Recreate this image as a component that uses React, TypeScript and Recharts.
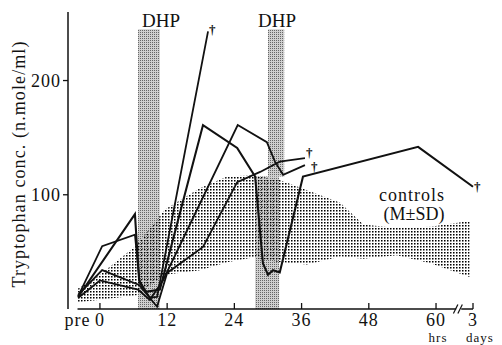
import {
  ComposedChart,
  Line,
  Area,
  XAxis,
  YAxis,
  ReferenceArea,
  ReferenceLine,
} from 'recharts';

// hours after start; "pre" sits at -4, "3 days" is drawn at 66.6 after the axis break
const xTicks = [-4, 0, 12, 24, 36, 48, 60, 66.6];
const yTicks = [100, 200];

// DHP infusion periods (hours), second one is slightly skewed in the print
const dhpBands = [
  { x1: 6.8, x2: 10.7, y1: 0, y2: 245 },
  { x1: 30, x2: 32.9, y1: 116, y2: 245 },
  { x1: 27.7, x2: 32, y1: 0, y2: 116 },
];

// controls M±SD band
const ctrlHours = [-3.9, 0, 6.6, 11.6, 17.9, 22.7, 27.3, 32.1, 37, 42.9, 47, 53, 59, 66];
const ctrlUpper = [18, 30, 56, 87, 106, 116, 117, 113, 104, 93, 74, 71, 72, 77];
const ctrlLower = [6, 8, 12, 30, 34, 41, 45, 41, 39, 46, 44, 47, 40, 28];

// individual patients (n.mole/ml), each ends with †
const p1Hours = [-3.9, 0.4, 6.25, 7.1, 8.9, 10.2, 19.3];
const p1Values = [11, 55, 65, 23, 10, 10.5, 243];

const p2Hours = [-3.9, 6.25, 7.0, 8.2, 10.7, 18.4, 24.5, 27.7, 29.1, 30, 30.9, 32.1, 36.25, 56.8, 66.6];
const p2Values = [10.5, 83, 25, 15, 17, 161, 141, 116, 40, 30, 34, 32, 116, 142, 107];

const p3Hours = [-3.9, 0, 6.8, 8.9, 11.25, 24.6, 29.8, 31.25, 32.7, 36.6];
const p3Values = [9.6, 25, 17, 8, 25, 161, 146, 129, 117.5, 126];

const p4Hours = [-3.9, 0.4, 7.0, 10.2, 12, 18.4, 24.5, 28.6, 32.1, 36.6];
const p4Values = [12.3, 34, 21, 2, 31.6, 54.4, 111, 120, 129, 132];

const toRows = (hours: number[], values: number[]) =>
  hours.map((h, i) => ({ h, v: values[i] }));

const patients = [
  { id: 'p1', rows: toRows(p1Hours, p1Values), width: 1.8, dx: 1, dy: 3 },
  { id: 'p2', rows: toRows(p2Hours, p2Values), width: 2.1, dx: 1, dy: 4 },
  { id: 'p3', rows: toRows(p3Hours, p3Values), width: 1.8, dx: 6, dy: 6 },
  { id: 'p4', rows: toRows(p4Hours, p4Values), width: 1.8, dx: 1, dy: -1 },
];

const ctrlRows = ctrlHours.map((h, i) => ({ h, range: [ctrlLower[i], ctrlUpper[i]] }));

const font = '"Liberation Serif", "DejaVu Serif", serif';
const ink = '#111';

const tickLabel = (v: number) => (v === -4 ? 'pre' : v > 64 ? '3' : String(v));

function XTick(props: any) {
  const { x, y, payload } = props;
  const v = payload.value;
  return (
    <g>
      {v !== -4 && <line x1={x} x2={x} y1={y} y2={y - 6} stroke={ink} strokeWidth={1.3} />}
      <text x={x} y={y + 17} textAnchor="middle" fontFamily={font} fontSize={18} letterSpacing={1} fill={ink}>
        {tickLabel(v)}
      </text>
    </g>
  );
}

const dagger = (count: number, dx: number, dy: number) => (props: any) => {
  const { cx, cy, index } = props;
  if (index !== count - 1) return <g key={`d${index}`} />;
  return (
    <text key={`d${index}`} x={cx + dx} y={cy + dy} fontFamily={font} fontSize={13} fontWeight="bold" fill={ink}>
      †
    </text>
  );
};

export default function App() {
  return (
    <div style={{ position: 'absolute', left: 0, top: 0, background: 'white' }}>
      <ComposedChart
        width={502}
        height={345}
        margin={{ top: 12, right: 29, bottom: 0, left: 28 }}
        style={{ backgroundColor: 'white' }}
      >
        <defs>
          <pattern id="ctrlDots" width="3" height="3" patternUnits="userSpaceOnUse">
            <rect x="0" y="0" width="1" height="1" fill="#000" />
            <rect x="1" y="0" width="1" height="1" fill="#777" />
            <rect x="0" y="1" width="1" height="1" fill="#777" />
            <rect x="1" y="1" width="1" height="1" fill="#bbb" />
          </pattern>
          <pattern id="dhpGray" width="2" height="2" patternUnits="userSpaceOnUse">
            <rect width="2" height="2" fill="#cfcfcf" />
            <rect width="1" height="1" fill="#666" />
          </pattern>
        </defs>
        <XAxis
          type="number"
          dataKey="h"
          domain={[-5.7, 66.6]}
          ticks={xTicks}
          axisLine={false}
          tickLine={false}
          tickSize={0}
          tickMargin={0}
          height={36}
          tick={<XTick />}
        />
        <YAxis
          type="number"
          domain={[0, 260]}
          ticks={yTicks}
          width={40}
          tickSize={5}
          tickMargin={2}
          axisLine={{ stroke: ink, strokeWidth: 1.5 }}
          tickLine={{ stroke: ink, strokeWidth: 1.3 }}
          tick={{ fill: ink, fontFamily: font, fontSize: 18, letterSpacing: 1 }}
        />
        {dhpBands.map((b, i) => (
          <ReferenceArea
            key={`dhp${i}`}
            x1={b.x1}
            x2={b.x2}
            y1={b.y1}
            y2={b.y2}
            fill="url(#dhpGray)"
            fillOpacity={1}
            stroke="none"
          />
        ))}
        <Area
          data={ctrlRows}
          dataKey="range"
          type="linear"
          stroke="none"
          fill="url(#ctrlDots)"
          fillOpacity={1}
          isAnimationActive={false}
        />
        {patients.map(p => (
          <Line
            key={p.id}
            data={p.rows}
            dataKey="v"
            type="linear"
            stroke={ink}
            strokeWidth={p.width}
            strokeLinejoin="miter"
            dot={dagger(p.rows.length, p.dx, p.dy)}
            activeDot={false}
            isAnimationActive={false}
          />
        ))}
        <ReferenceLine segment={[{ x: -4, y: 0 }, { x: 63.6, y: 0 }]} stroke={ink} strokeWidth={1.5} ifOverflow="visible" />
        <ReferenceLine segment={[{ x: 64.5, y: 0 }, { x: 66.6, y: 0 }]} stroke={ink} strokeWidth={1.5} ifOverflow="visible" />
        <ReferenceLine segment={[{ x: 63.1, y: -4 }, { x: 63.9, y: 4 }]} stroke={ink} strokeWidth={1.2} ifOverflow="visible" />
        <ReferenceLine segment={[{ x: 63.9, y: -4 }, { x: 64.7, y: 4 }]} stroke={ink} strokeWidth={1.2} ifOverflow="visible" />
        <text x={161} y={27} textAnchor="middle" fontFamily={font} fontSize={19} fill={ink}>DHP</text>
        <text x={277} y={27} textAnchor="middle" fontFamily={font} fontSize={19} fill={ink}>DHP</text>
        <text x={412} y={201} textAnchor="middle" fontFamily={font} fontSize={18} letterSpacing={1} fill={ink}>controls</text>
        <text x={414} y={220} textAnchor="middle" fontFamily={font} fontSize={18} fill={ink}>(M±SD)</text>
        <text x={438} y={341.5} textAnchor="middle" fontFamily={font} fontSize={13} letterSpacing={1} fill={ink}>hrs</text>
        <text x={480} y={341.5} textAnchor="middle" fontFamily={font} fontSize={13} letterSpacing={1} fill={ink}>days</text>
        <text
          x={25}
          y={164}
          transform="rotate(-90 25 164)"
          textAnchor="middle"
          fontFamily={font}
          fontSize={18}
          letterSpacing={1.1}
          fill={ink}
        >
          Tryptophan conc. (n.mole/ml)
        </text>
      </ComposedChart>
    </div>
  );
}
